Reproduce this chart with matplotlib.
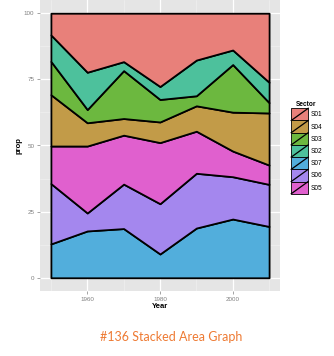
import numpy as np
import matplotlib
matplotlib.use('Agg')
import matplotlib.pyplot as plt
from matplotlib.patches import Patch, Rectangle
from matplotlib.lines import Line2D
from matplotlib.legend_handler import HandlerPatch

plt.rcParams['font.family'] = ['Liberation Sans', 'DejaVu Sans']

years = [1950, 1960, 1970, 1980, 1990, 2000, 2010]

# share of each sector per year (percent), bottom of the stack first
sectors = ['S07', 'S06', 'S05', 'S04', 'S03', 'S02', 'S01']
S07 = [12.8, 17.7, 18.6, 9.0, 18.8, 22.2, 19.4]
S06 = [22.8, 6.8, 16.8, 19.0, 20.7, 16.0, 15.9]
S05 = [14.2, 25.3, 18.5, 23.1, 15.9, 9.7, 7.3]
S04 = [19.4, 8.8, 6.3, 7.8, 9.6, 14.7, 19.7]
S03 = [12.6, 5.0, 18.1, 8.5, 3.8, 18.0, 3.9]
S02 = [10.0, 14.1, 3.4, 4.9, 13.5, 5.5, 7.7]
S01 = [8.2, 22.3, 18.3, 27.7, 17.7, 13.9, 26.1]

legend_order = ['S01', 'S04', 'S03', 'S02', 'S07', 'S06', 'S05']

colors = {'S01': '#E8807A', 'S04': '#C29B48', 'S03': '#6CB83F',
          'S02': '#4DC19C', 'S07': '#52AEDC', 'S06': '#A487EE',
          'S05': '#E060CE'}


class SlashKey(HandlerPatch):
    # filled square with a black border and a diagonal stroke
    def create_artists(self, legend, orig_handle, xdescent, ydescent,
                       width, height, fontsize, trans):
        rect = Rectangle((-xdescent, -ydescent), width, height,
                         facecolor=orig_handle.get_facecolor(),
                         edgecolor='black', linewidth=0.6, transform=trans)
        line = Line2D([-xdescent, -xdescent + width],
                      [-ydescent, -ydescent + height],
                      color='black', linewidth=0.9, transform=trans)
        return [rect, line]


def main():
    data = {'S07': S07, 'S06': S06, 'S05': S05, 'S04': S04,
            'S03': S03, 'S02': S02, 'S01': S01}
    x = np.array(years, dtype=float)

    fig = plt.figure(figsize=(3.34, 3.56), dpi=100)
    ax = fig.add_axes([40 / 334, 1 - 291 / 356, 240 / 334, 291 / 356])
    ax.set_facecolor('#E5E5E5')

    base = np.zeros_like(x)
    for name in sectors:
        top = base + np.array(data[name])
        ax.fill_between(x, base, top, facecolor=colors[name],
                        edgecolor='black', linewidth=1.3, zorder=3)
        base = top

    ax.set_xlim(1947, 2013)
    ax.set_ylim(-5, 105)
    ax.set_xticks([1960, 1980, 2000])
    ax.set_xticks([1950, 1970, 1990, 2010], minor=True)
    ax.set_yticks([0, 25, 50, 75, 100])
    ax.set_yticks([12.5, 37.5, 62.5, 87.5], minor=True)
    ax.grid(which='major', color='white', linewidth=0.9, zorder=0)
    ax.grid(which='minor', color='#F2F2F2', linewidth=0.4, zorder=0)
    ax.tick_params(which='major', length=2.5, width=0.5, color='#7F7F7F',
                   labelsize=4.5, labelcolor='#7F7F7F', pad=1.5)
    ax.tick_params(which='minor', length=0)
    for spine in ax.spines.values():
        spine.set_visible(False)

    ax.set_xlabel('Year', fontsize=5.5, fontweight='bold', labelpad=1)
    ax.set_ylabel('prop', fontsize=5.5, fontweight='bold', labelpad=1)

    handles = [Patch(facecolor=colors[s], label=s) for s in legend_order]
    fig.legend(handles=handles, title='Sector', loc='upper left',
               bbox_to_anchor=(288 / 334, 1 - 98 / 356), frameon=False,
               fontsize=4.7, title_fontproperties={'weight': 'bold', 'size': 4.7},
               handlelength=2.6, handleheight=2.5, labelspacing=0.0,
               handletextpad=0.3, borderpad=0.0,
               handler_map={Patch: SlashKey()})

    fig.text(171 / 334, 1 - 337 / 356, '#136 Stacked Area Graph',
             color='#EE7A33', fontsize=9, family=['Lato', 'DejaVu Sans'],
             ha='center', va='center')

    fig.savefig('out.png', dpi=100)
    plt.close(fig)


if __name__ == '__main__':
    main()
